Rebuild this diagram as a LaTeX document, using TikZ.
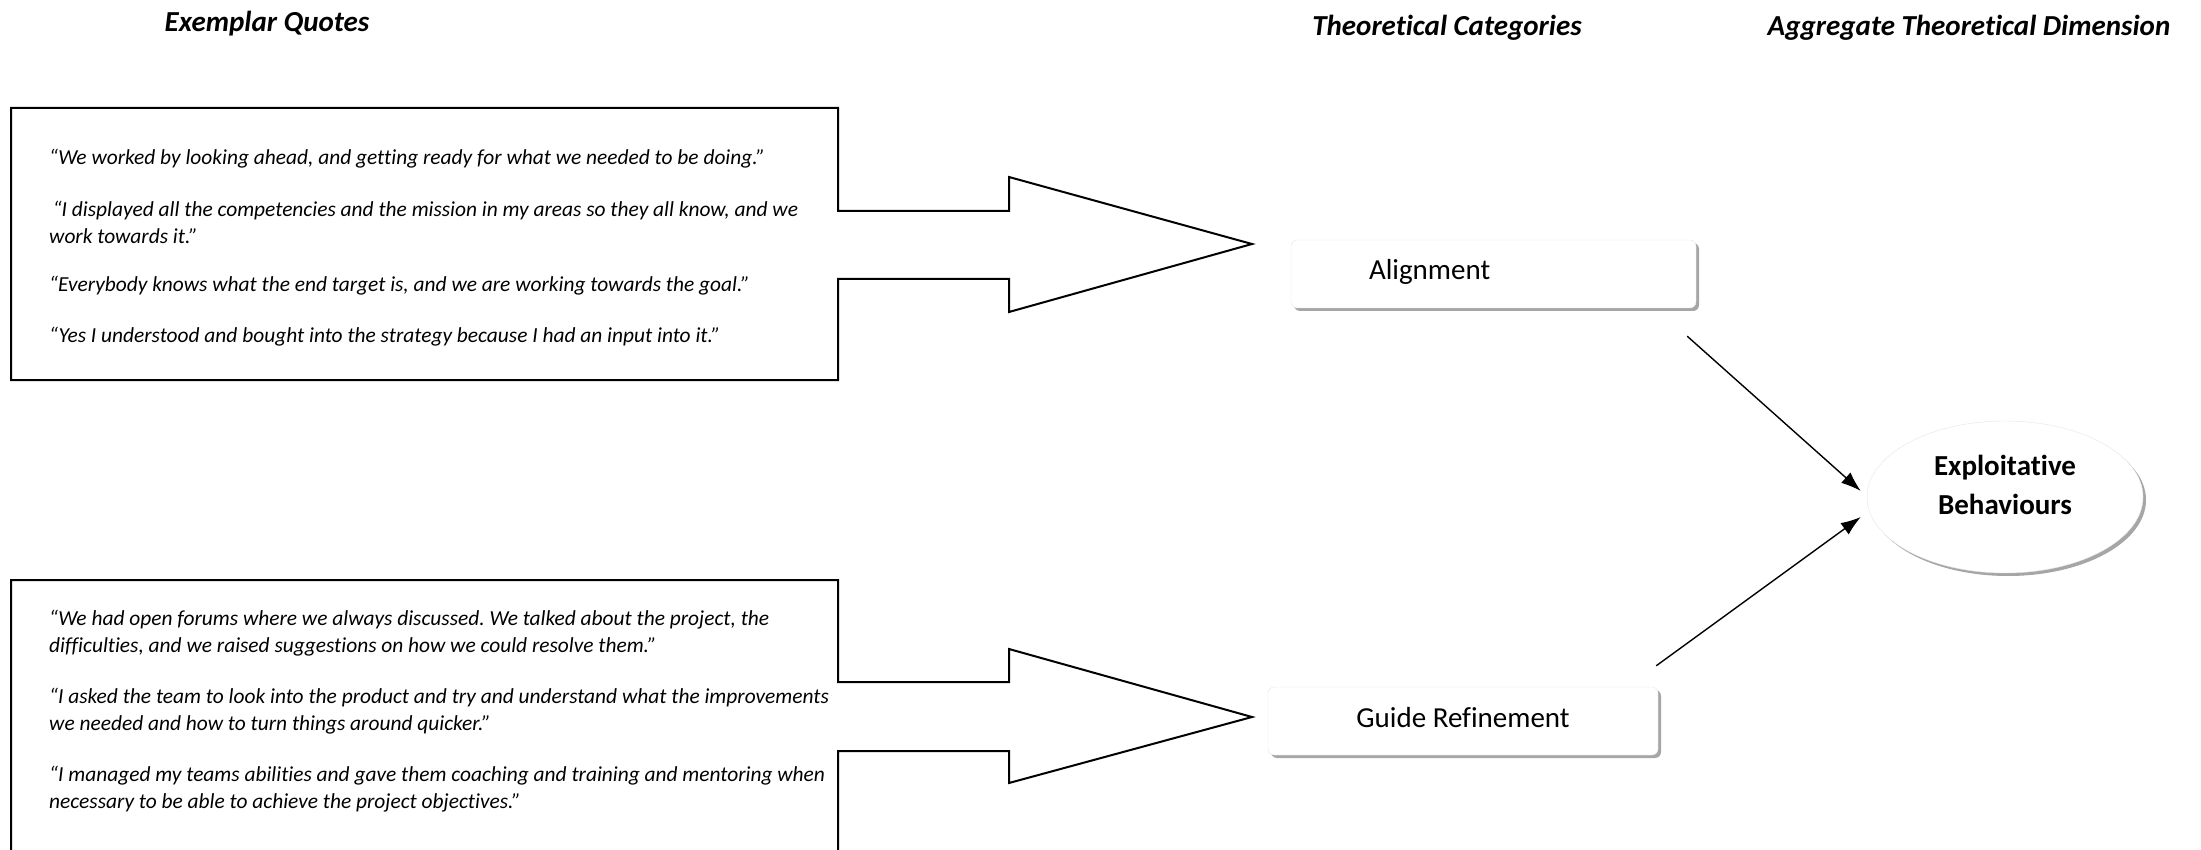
\documentclass[tikz,border=0pt]{standalone}
\usepackage{fontspec}
\setmainfont{Carlito}[Ligatures=CommonOff]
\usepackage{tikz}
\usetikzlibrary{calc,shadows,arrows.meta,shapes}
\usetikzlibrary{positioning}
\frenchspacing

\begin{document}
\begin{tikzpicture}[x=1pt,y=-1pt,
	head/.style={font=\fontsize{29}{33}\selectfont\bfseries\itshape},
	quote/.style={anchor=west,align=left,inner sep=0pt,font=\fontsize{21.4}{27}\selectfont\itshape},
	catbox/.style={draw=gray!20,fill=white,rounded corners=6pt,minimum height=68pt,
		font=\fontsize{29}{33}\selectfont,
		drop shadow={shadow xshift=3pt,shadow yshift=-3pt,fill=gray!70,opacity=1}},
	conn/.style={->,>={Latex[length=20pt,width=14pt]},line width=1.4pt}]

	\useasboundingbox (0,0) rectangle (2201,850);

	% headers
	\node[head] (hquotes) at (267,24) {Exemplar Quotes};
	\node[head] (hcat) at (1447,28) {Theoretical Categories};
	\node[head] (hdim) at (1969,28) {Aggregate Theoretical Dimension};

	% upper quote box with its arrow
	\draw[line width=2pt] (11,108) -- (838,108) -- (838,211) -- (1009,211) -- (1009,177)
		-- (1252,244) -- (1009,312) -- (1009,279) -- (838,279) -- (838,380) -- (11,380) -- cycle;
	\node[quote] (qa1) at (49,159) {``We worked by looking ahead, and getting ready for what we needed to be doing.''};
	\node[quote] (qa2) at (49,222.5) {\,``I displayed all the competencies and the mission in my areas so they all know, and we\\work towards it.''};
	\node[quote] (qa3) at (49,286) {``Everybody knows what the end target is, and we are working towards the goal.''};
	\node[quote] (qa4) at (49,337) {``Yes I understood and bought into the strategy because I had an input into it.''};

	% lower quote box with its arrow
	\draw[line width=2pt] (838,852) -- (838,751) -- (1009,751) -- (1009,783) -- (1252,717)
		-- (1009,649) -- (1009,682) -- (838,682) -- (838,580) -- (11,580) -- (11,852);
	\node[quote] (qb1) at (49,633.5) {``We had open forums where we always discussed. We talked about the project, the\\difficulties, and we raised suggestions on how we could resolve them.''};
	\node[quote] (qb2) at (49,711) {``I asked the team to look into the product and try and understand what the improvements\\we needed and how to turn things around quicker.''};
	\node[quote] (qb3) at (49,789.5) {``I managed my teams abilities and gave them coaching and training and mentoring when\\necessary to be able to achieve the project objectives.''};

	% categories
	\node[catbox,text width=249pt,inner xsep=78pt,align=left] (align) at (1493.5,274) {Alignment\rule[-10pt]{0pt}{0pt}};
	\node[catbox,minimum width=390pt] (guide) at (1463,721) {Guide Refinement\rule[-8pt]{0pt}{0pt}};

	% dimension
	\node[ellipse,draw=gray!20,fill=white,minimum width=276pt,minimum height=152pt,
		align=center,font=\fontsize{29}{39}\selectfont\bfseries,
		drop shadow={shadow xshift=3pt,shadow yshift=-3pt,fill=gray!70,opacity=1}] (expl) at (2005,497) {Exploitative\\Behaviours\rule[-24pt]{0pt}{0pt}};

	\draw[conn] ([xshift=-9pt,yshift=-28pt]align.south east) -- ([xshift=-6pt,yshift=6pt]expl.west);
	\draw[conn] ([xshift=-2pt,yshift=21pt]guide.north east) -- ([xshift=-6pt,yshift=-20pt]expl.west);
\end{tikzpicture}
\end{document}
